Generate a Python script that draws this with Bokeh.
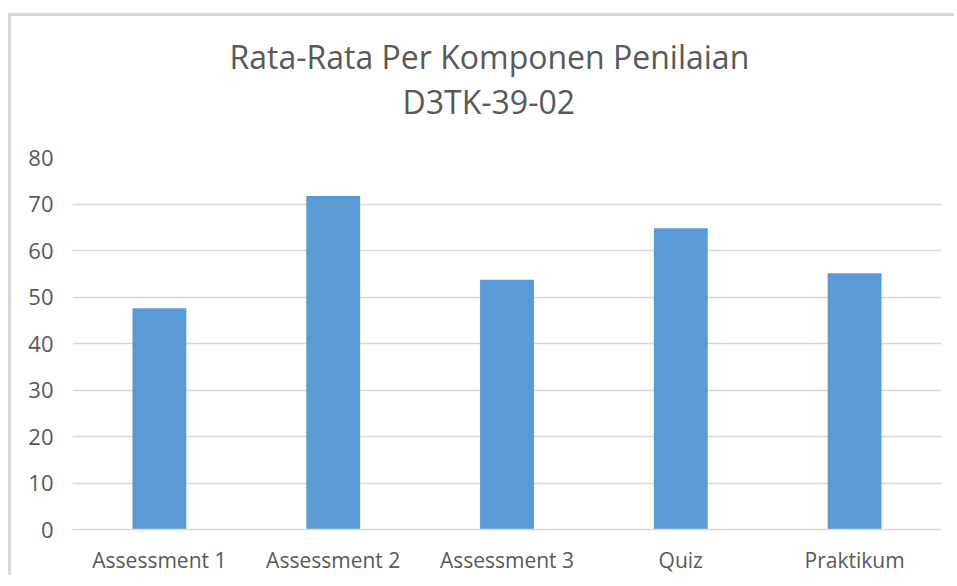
from bokeh.plotting import figure
from bokeh.models import Title, ColumnDataSource, FixedTicker
from bokeh.embed import file_html
from bokeh.resources import INLINE

categories = ["Assessment 1", "Assessment 2", "Assessment 3", "Quiz", "Praktikum"]
values = [47.6, 71.7, 53.7, 64.8, 55.1]
y_ticks = [0, 10, 20, 30, 40, 50, 60, 70, 80]

FONT = "Open Sans"
TXT = "#595959"
GRID = "#d9d9d9"
BAR = "#5b9bd5"

p = figure(x_range=categories, y_range=(0, 80), width=946, height=562,
           output_backend="svg", toolbar_location=None, title=None,
           min_border_left=61, min_border_right=16, min_border_bottom=49,
           min_border_top=0)
p.outline_line_color = None
# chart-area frame (left and top edges, as in the spreadsheet chart)
p.styles = {"margin-left": "8px", "margin-top": "13px",
            "border-left": "3px solid #d9d9d9", "border-top": "3px solid #d9d9d9",
            "border-right": "none", "border-bottom": "none"}

src = ColumnDataSource(dict(cat=categories, val=values))
p.vbar(x="cat", top="val", width=0.31, source=src, fill_color=BAR, line_color=None)

# titles: spacer first (closest to frame), then line 2, then line 1, then top spacer
p.add_layout(Title(text=" ", text_font_size="24px", text_font=FONT, standoff=0), "above")
p.add_layout(Title(text="D3TK-39-02", align="left", text_font=FONT, text_font_size="32px",
                   text_color=TXT, text_font_style="normal", standoff=0, offset=330), "above")
p.add_layout(Title(text="Rata-Rata Per Komponen  Penilaian", align="left", text_font=FONT,
                   text_font_size="32px", text_color=TXT, text_font_style="normal",
                   standoff=0, offset=157), "above")
p.add_layout(Title(text=" ", text_font_size="10px", text_font=FONT, standoff=0), "above")

p.xgrid.grid_line_color = None
p.ygrid.grid_line_color = GRID
p.ygrid.grid_line_width = 1.5
p.yaxis.ticker = FixedTicker(ticks=y_ticks)
p.yaxis.axis_line_color = None
p.yaxis.major_tick_line_color = None
p.yaxis.minor_tick_line_color = None
p.yaxis.major_label_text_font = FONT
p.yaxis.major_label_text_font_size = "22px"
p.yaxis.major_label_text_color = TXT
p.yaxis.major_label_standoff = 13

p.xaxis.axis_line_color = GRID
p.xaxis.axis_line_width = 1.5
p.xaxis.major_tick_line_color = None
p.xaxis.minor_tick_line_color = None
p.xaxis.major_label_text_font = FONT
p.xaxis.major_label_text_font_size = "21px"
p.xaxis.major_label_text_color = TXT
p.xaxis.major_label_standoff = 10
p.x_range.range_padding = 0

open("out.html", "w").write(file_html(p, INLINE))
